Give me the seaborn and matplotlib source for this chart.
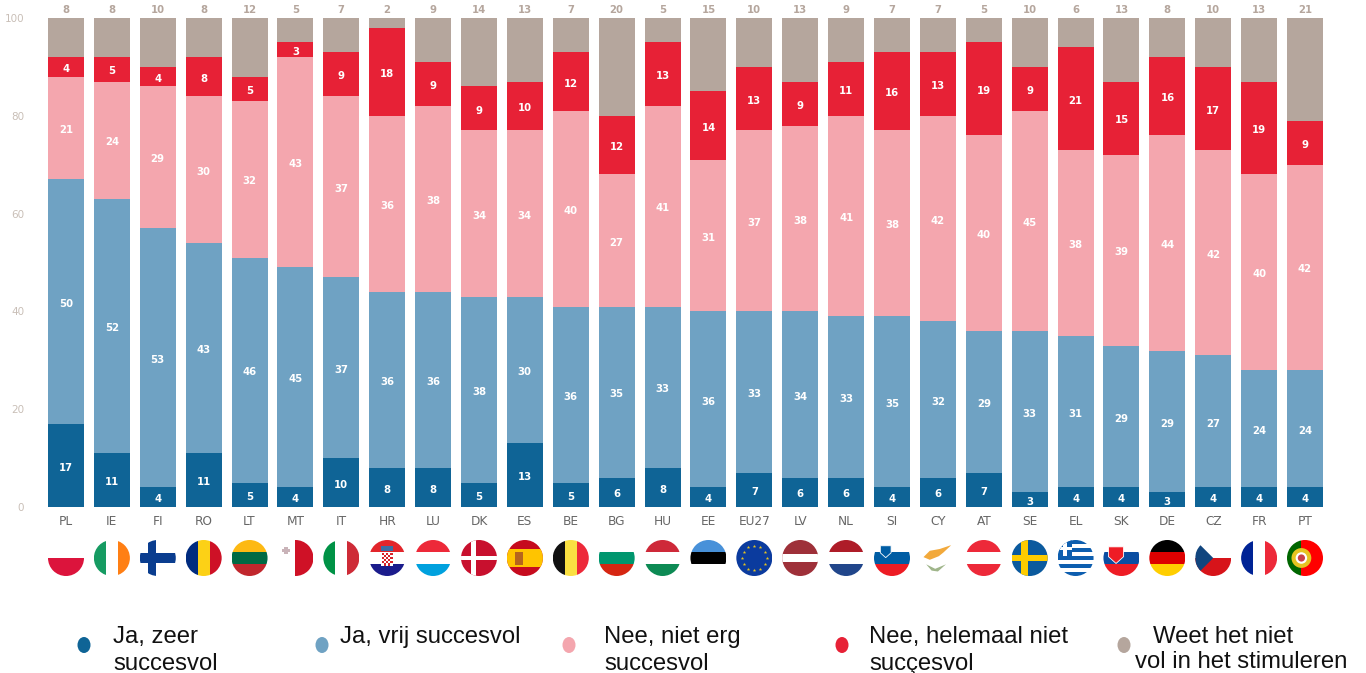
import matplotlib
matplotlib.use("Agg")
import matplotlib.pyplot as plt
from matplotlib.patches import Circle, Rectangle, Polygon, Ellipse
from matplotlib.transforms import Affine2D
import numpy as np
import seaborn as sns

countries = ["PL","IE","FI","RO","LT","MT","IT","HR","LU","DK","ES","BE","BG","HU","EE","EU27","LV","NL","SI","CY","AT","SE","EL","SK","DE","CZ","FR","PT"]
zeer     = [17,11,4,11,5,4,10,8,8,5,13,5,6,8,4,7,6,6,4,6,7,3,4,4,3,4,4,4]
vrij     = [50,52,53,43,46,45,37,36,36,38,30,36,35,33,36,33,34,33,35,32,29,33,31,29,29,27,24,24]
niet_erg = [21,24,29,30,32,43,37,36,38,34,34,40,27,41,31,37,38,41,38,42,40,45,38,39,44,42,40,42]
helemaal = [4,5,4,8,5,3,9,18,9,9,10,12,12,13,14,13,9,11,16,13,19,9,21,15,16,17,19,9]
weet     = [8,8,10,8,12,5,7,2,9,14,13,7,20,5,15,10,13,9,7,7,5,10,6,13,8,10,13,21]
series = [zeer, vrij, niet_erg, helemaal, weet]
colors = ["#0f6496", "#6fa2c3", "#f4a6ae", "#e72136", "#b5a69d"]
yticks = [0, 20, 40, 60, 80, 100]

W, H = 1366, 673
sns.set_theme(style="white")
plt.rcParams["font.family"] = ["DejaVu Sans"]
fig = plt.figure(figsize=(W / 100, H / 100), dpi=100, facecolor="white")
ax = fig.add_axes([43 / W, 1 - 507 / H, (1328 - 43) / W, (507 - 18) / H])

bottom = np.zeros(len(countries))
for vals, col in zip(series, colors):
    sns.barplot(x=countries, y=vals, bottom=bottom, color=col, saturation=1,
                width=0.784, ax=ax, linewidth=0)
    bottom = bottom + np.array(vals)

ax.set_xlim(-0.5, 27.5)
ax.set_ylim(0, 100)
for c, vals in zip(ax.containers[:4], series[:4]):
    for t in ax.bar_label(c, labels=[str(v) for v in vals], label_type="center",
                          color="white", fontsize=7.3, fontweight="bold"):
        t.xyann = (0, -1.5)
ax.bar_label(ax.containers[4], labels=[str(v) for v in weet], label_type="edge", padding=2.5,
             color="#b5a69d", fontsize=7.3, fontweight="bold")
ax.set_yticks(yticks)
ax.tick_params(axis="y", length=0, pad=13.5, labelsize=7.5, labelcolor="#c9bfb7")
ax.tick_params(axis="x", length=0, pad=6, labelsize=8.7, labelcolor="#666666")
sns.despine(ax=ax, left=True, bottom=True)
ax.patch.set_alpha(0)

# overlay in pixel coordinates: flags and legend
ov = fig.add_axes([0, 0, 1, 1], facecolor="none")
ov.set_xlim(0, W)
ov.set_ylim(H, 0)
ov.axis("off")


def h3(a, b, c):
    return [("r", -1, -1, 1, -1 / 3, a), ("r", -1, -1 / 3, 1, 1 / 3, b), ("r", -1, 1 / 3, 1, 1, c)]


def v3(a, b, c):
    return [("r", -1, -1, -1 / 3, 1, a), ("r", -1 / 3, -1, 1 / 3, 1, b), ("r", 1 / 3, -1, 1, 1, c)]


def shield(x, y, s, col, edge="white"):
    return [("p", [(x - s, y - s), (x + s, y - s), (x + s, y + .3 * s), (x, y + 1.2 * s), (x - s, y + .3 * s)], col, edge)]


stars = [("s", .68 * np.sin(a), -.68 * np.cos(a)) for a in np.arange(12) * np.pi / 6]
greek = [("r", -1, -1 + i * 2 / 9, 1, -1 + (i + 1) * 2 / 9, "#0d5eaf" if i % 2 == 0 else "white") for i in range(9)]
checks = [("r", -.3 + i * .12, -.3 + j * .12, -.18 + i * .12, -.18 + j * .12, "#d8232a")
          for i in range(5) for j in range(6) if (i + j) % 2 == 0]

flags = {
    "PL": [("r", -1, 0, 1, 1, "#dc143c")],
    "IE": v3("#169b62", "white", "#ff7f14"),
    "FI": [("r", -.55, -1, -.12, 1, "#0a3d8f"), ("r", -1, -.27, 1, .27, "#0a3d8f")],
    "RO": v3("#002b7f", "#fcd116", "#ce1126"),
    "LT": h3("#fdb913", "#006a44", "#c1272d"),
    "MT": [("r", -.05, -1, 1, 1, "#cf1126"), ("r", -.62, -.62, -.4, -.2, "#c9b3b8"), ("r", -.72, -.5, -.3, -.32, "#c9b3b8")],
    "IT": v3("#009246", "white", "#ce2b37"),
    "HR": h3("#e2252b", "white", "#1b1c8c") + [("r", -.32, -.32, .32, .45, "white")] + checks + [("r", -.32, -.68, .32, -.38, "#3a6ea5")],
    "LU": h3("#ed2939", "white", "#00a1de"),
    "DK": [("r", -1, -1, 1, 1, "#c8102e"), ("r", -.45, -1, -.18, 1, "white"), ("r", -1, -.13, 1, .13, "white")],
    "ES": [("r", -1, -1, 1, 1, "#c60b1e"), ("r", -1, -.5, 1, .5, "#ffc400"), ("r", -.55, -.35, -.1, .4, "#b5651d")],
    "BE": v3("#111111", "#fae042", "#ed2939"),
    "BG": h3("white", "#00966e", "#d62612"),
    "HU": h3("#ce2939", "white", "#0d8a54"),
    "EE": h3("#4891d9", "#000000", "white"),
    "EU27": [("r", -1, -1, 1, 1, "#0b3b9e")] + stars,
    "LV": [("r", -1, -1, 1, 1, "#9e3039"), ("r", -1, -.2, 1, .2, "white")],
    "NL": h3("#ae1c28", "white", "#21468b"),
    "SI": h3("white", "#005da4", "#ed1c24") + shield(-.35, -.38, .3, "#005da4"),
    "CY": [("p", [(-.8, -.05), (-.45, -.4), (.1, -.5), (.75, -.72), (.3, -.3), (.05, -.1), (-.45, .1)], "#f2a93b", None),
           ("p", [(-.65, .35), (-.15, .6), (.45, .35), (.0, .75), (-.35, .7)], "#9fb58a", None)],
    "AT": h3("#ed2939", "white", "#ed2939"),
    "SE": [("r", -1, -1, 1, 1, "#0b5a9e"), ("r", -.5, -1, -.12, 1, "#fecc00"), ("r", -1, -.18, 1, .18, "#fecc00")],
    "EL": greek + [("r", -1, -1, -.2, -.1, "#0d5eaf"), ("r", -1, -.63, -.2, -.45, "white"), ("r", -.68, -1, -.5, -.1, "white")],
    "SK": h3("white", "#0b4ea2", "#ee1c25") + shield(-.3, -.2, .42, "#ee1c25"),
    "DE": h3("#000000", "#dd0000", "#ffce00"),
    "CZ": [("r", -1, 0, 1, 1, "#d7141a"), ("p", [(-1, -1), (0, 0), (-1, 1)], "#11457e", None)],
    "FR": v3("#002395", "white", "#ed2939"),
    "PT": [("r", -1, -1, -.2, 1, "#006600"), ("r", -.2, -1, 1, 1, "#ff0000"),
           ("c", -.2, 0, .55, "#e6c421"), ("c", -.2, 0, .32, "white"), ("c", -.2, 0, .2, "#c8414b")],
}

step = (1305 - 66) / 27
for i, code in enumerate(countries):
    cx, cy, R = 66 + i * step, 558, 18
    tr = Affine2D().scale(R, R).translate(cx, cy) + ov.transData
    clip = Circle((0, 0), 1, transform=tr, facecolor="none", edgecolor="none")
    ov.add_patch(clip)
    for item in flags[code]:
        if item[0] == "r":
            _, x0, y0, x1, y1, col = item
            art = Rectangle((x0, y0), x1 - x0, y1 - y0, facecolor=col, edgecolor="none", transform=tr)
        elif item[0] == "p":
            art = Polygon(item[1], closed=True, facecolor=item[2], edgecolor=item[3] or "none",
                          linewidth=.6, transform=tr)
        elif item[0] == "c":
            art = Circle((item[1], item[2]), item[3], facecolor=item[4], edgecolor="none", transform=tr)
        else:
            ov.scatter([cx + item[1] * R], [cy + item[2] * R], s=7, marker="*", color="#e6c421", linewidths=0, zorder=3)
            continue
        ov.add_patch(art)
        art.set_clip_path(clip)

legend_dots = [84, 322, 569, 842, 1124]
for x, col in zip(legend_dots, colors):
    ov.add_patch(Ellipse((x, 645), 13, 16, facecolor=col, edgecolor="none"))

legend_texts = [
    (113, 643, "Ja, zeer"), (113, 670, "succesvol"),
    (340, 643, "Ja, vrij succesvol"),
    (604, 643, "Nee, niet erg"), (604, 670, "succesvol"),
    (869, 643, "Nee, helemaal niet"), (869, 670, "sucçesvol"),
    (1153, 643, "Weet het niet"), (1135, 668, "vol in het stimuleren"),
]
for x, y, s in legend_texts:
    ov.text(x, y, s, fontsize=17.2, family="Liberation Sans", color="#111111", ha="left", va="baseline")

fig.savefig("out.png", dpi=100, facecolor="white")
